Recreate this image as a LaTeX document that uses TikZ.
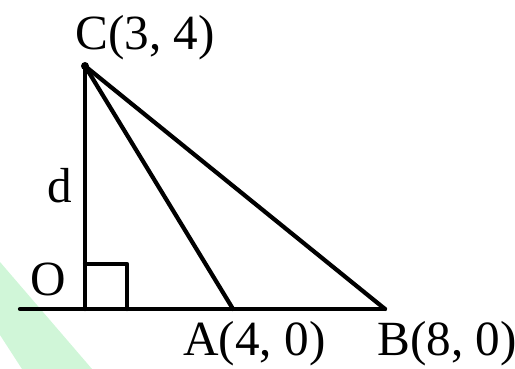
\documentclass[tikz,border=0pt]{standalone}
\usepackage{fontspec}
\setmainfont{Liberation Serif}
\usepackage{tikz}
\definecolor{tint}{RGB}{208,246,216}

\begin{document}
\begin{tikzpicture}[x=0.02cm,y=-0.02cm,line cap=round,line join=round,
  seg/.style={line width=2.4pt},
  lbl/.style={anchor=base west,inner sep=0pt,font=\fontsize{28}{32}\selectfont}]
\useasboundingbox (0,0) rectangle (515,369);
% faint tint left over in the scan
\fill[tint] (0,262) -- (92,369) -- (22,369) -- (0,335) -- cycle;
% points
\coordinate (C) at (85,66);
\coordinate (O) at (85,309);
\coordinate (A) at (233,309);
\coordinate (B) at (385,309);
\coordinate (L) at (20,309);
% lines
\draw[seg] (L) -- (B);
\draw[seg] (O) -- (C);
\draw[seg] (C) -- (A);
\draw[seg] (C) -- (B);
\draw[seg] (O) ++(0,-45) -| ++(42,45);
\fill (C) circle (4);
% labels
\node[lbl] (labC) at (75,49) {C(3, 4)};
\node[lbl] (labO) at (30,295) {O};
\node[lbl] (labd) at (47,202) {d};
\node[lbl] (labA) at (183,355) {A(4, 0)};
\node[lbl] (labB) at (377,355) {B(8, 0)};
\end{tikzpicture}
\end{document}
